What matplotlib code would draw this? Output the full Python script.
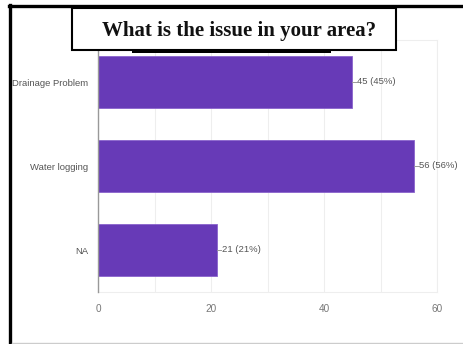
import matplotlib
matplotlib.use("Agg")
import matplotlib.pyplot as plt
from matplotlib.patches import Rectangle
from matplotlib.lines import Line2D

categories = ["Drainage Problem", "Water logging", "NA"]
values = [45, 56, 21]
percents = ["45%", "56%", "21%"]
xticks = [0, 20, 40, 60]
title = "What is the issue in your area?"

W, H = 464, 344
fig = plt.figure(figsize=(W / 100, H / 100), dpi=100)
fig.patch.set_facecolor("white")

def fx(px):
    return px / W

def fy(py):
    return 1 - py / H

FAM = ["Liberation Sans", "DejaVu Sans"]

ax = fig.add_axes([fx(98), fy(292), fx(437) - fx(98), fy(40) - fy(292)])
ypos = list(range(len(categories)))
ax.barh(ypos, values, height=0.62, color="#673AB7", edgecolor="#8a63cc", linewidth=0.6, zorder=3)
ax.set_ylim(2.5, -0.5)
ax.set_xlim(0, 60)
ax.set_xticks(xticks)
ax.set_xticks(range(0, 61, 10), minor=True)
ax.grid(axis="x", which="both", color="#eeeeee", linewidth=0.8, zorder=0)
ax.tick_params(axis="x", which="both", length=0, pad=9, labelsize=7.2, labelcolor="#777777")
ax.tick_params(axis="y", length=0, pad=7, labelsize=6.8, labelcolor="#555555")
ax.set_yticks(ypos)
ax.set_yticklabels(categories)
for lab in ax.get_xticklabels() + ax.get_yticklabels():
    lab.set_family(FAM)
for s in ["top", "right", "bottom"]:
    ax.spines[s].set_color("#eeeeee")
    ax.spines[s].set_linewidth(0.8)
ax.spines["left"].set_color("#999999")
ax.spines["left"].set_linewidth(1.0)
ax.spines["left"].set_zorder(4)

for y, v, p in zip(ypos, values, percents):
    ax.plot([v, v + 0.8], [y, y], color="#999999", linewidth=0.7, clip_on=False, zorder=4)
    ax.text(v + 0.9, y, f"{v} ({p})", va="center", ha="left", fontsize=6.8,
            color="#555555", family=FAM)

# outer frame
fig.add_artist(Line2D([fx(9), fx(464)], [fy(6), fy(6)], color="black", linewidth=2.4))
fig.add_artist(Line2D([fx(10.5), fx(10.5)], [fy(5), fy(344)], color="black", linewidth=2.4))
fig.add_artist(Line2D([fx(12), fx(464)], [fy(342.5), fy(342.5)], color="#cccccc", linewidth=1.0))

# title box with shadow bar
fig.add_artist(Rectangle((fx(132), fy(52.5)), fx(331) - fx(132), fy(49.5) - fy(52.5),
                         facecolor="black", edgecolor="none", zorder=9))
fig.add_artist(Rectangle((fx(72), fy(50)), fx(396) - fx(72), fy(8) - fy(50),
                         facecolor="white", edgecolor="black", linewidth=1.5, zorder=10))
fig.text(fx(239.5), fy(31), title, ha="center", va="center", fontsize=15,
         fontweight="bold", family=["Liberation Serif", "DejaVu Serif"], color="#111111", zorder=11)

fig.savefig("out.png", dpi=100)
